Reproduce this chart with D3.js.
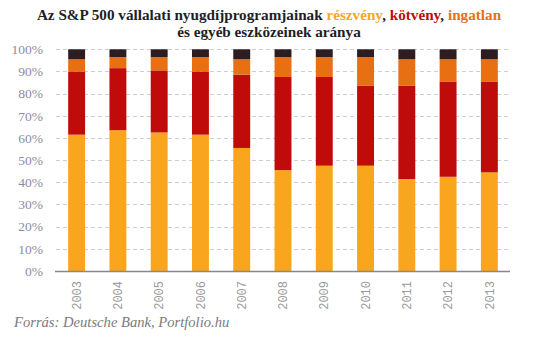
<!DOCTYPE html>
<html>
<head>
<meta charset="utf-8">
<script src="https://cdn.jsdelivr.net/npm/d3@7"></script>
<style>
  body { margin: 0; background: #fff; }
  svg { display: block; }
</style>
</head>
<body>
<svg id="chart"></svg>
<script>
// ── Data (percent of portfolio) ──────────────────────────────────────────────
const years      = ['2003', '2004', '2005', '2006', '2007', '2008', '2009', '2010', '2011', '2012', '2013'];
const stocks     = [61.5, 63.5, 62.5, 61.5, 55.5, 45.5, 47.5, 47.5, 41.5, 42.5, 44.5];
const bonds      = [28.5, 28,   28,   28.5, 33,   42,   40,   36,   42,   43,   41];
const realEstate = [5.5,  5,    6,    6.5,  7,    9,    9,    13,   12,   10,   10];
const other      = [4.5,  3.5,  3.5,  3.5,  4.5,  3.5,  3.5,  3.5,  4.5,  4.5,  4.5];
const yTicks     = [0, 10, 20, 30, 40, 50, 60, 70, 80, 90, 100];

const SERIES = [
  { key: 'stocks',     values: stocks,     color: '#F9A51E' },
  { key: 'bonds',      values: bonds,      color: '#C00B0B' },
  { key: 'realEstate', values: realEstate, color: '#E87013' },
  { key: 'other',      values: other,      color: '#2B1D22' },
];

const W = 534, H = 342;
const M = { left: 56, right: 24, top: 49.3, bottom: 71 };

const svg = d3.select('#chart').attr('width', W).attr('height', H);

// table for the stack layout
const table = years.map((y, i) => {
  const row = { year: y };
  SERIES.forEach(s => { row[s.key] = s.values[i]; });
  return row;
});

const x = d3.scaleBand()
  .domain(years)
  .range([M.left, W - M.right])
  .paddingInner(0.59)
  .paddingOuter(0.295);

const y = d3.scaleLinear()
  .domain([0, 100])
  .range([H - M.bottom, M.top]);

// ── Gridlines ────────────────────────────────────────────────────────────────
svg.append('g')
  .attr('class', 'grid')
  .selectAll('line')
  .data(yTicks.filter(t => t > 0))
  .join('line')
    .attr('x1', M.left)
    .attr('x2', W - M.right)
    .attr('y1', d => Math.round(y(d)) + 0.5)
    .attr('y2', d => Math.round(y(d)) + 0.5)
    .attr('stroke', '#cfcfcf')
    .attr('stroke-dasharray', '4,3');

// ── Stacked bars ─────────────────────────────────────────────────────────────
const stacked = d3.stack().keys(SERIES.map(s => s.key))(table);

svg.append('g')
  .attr('class', 'bars')
  .selectAll('g')
  .data(stacked)
  .join('g')
    .attr('fill', (d, i) => SERIES[i].color)
  .selectAll('rect')
  .data(d => d)
  .join('rect')
    .attr('x', d => x(d.data.year))
    .attr('width', x.bandwidth())
    .attr('y', d => y(d[1]))
    .attr('height', d => y(d[0]) - y(d[1]));

// ── Y axis labels ────────────────────────────────────────────────────────────
const yAxis = svg.append('g')
  .attr('transform', `translate(${M.left - 13},0)`)
  .call(d3.axisLeft(y).tickValues(yTicks).tickFormat(d => d + '%').tickSize(0).tickPadding(0));
yAxis.select('.domain').remove();
yAxis.selectAll('text')
  .attr('font-family', '"Liberation Serif", "DejaVu Serif", serif')
  .attr('font-size', 13.5)
  .attr('fill', '#8b8c9c');

// ── X axis (baseline + rotated year labels) ──────────────────────────────────
const xAxis = svg.append('g')
  .attr('transform', `translate(0,${H - M.bottom})`)
  .call(d3.axisBottom(x).tickSize(0).tickPadding(0));
xAxis.select('.domain')
  .attr('d', `M${M.left - 1},0.5H${W - M.right}`)
  .attr('stroke', '#888')
  .attr('stroke-width', 1.5);
xAxis.selectAll('text')
  .attr('font-family', '"Liberation Mono", "DejaVu Sans Mono", monospace')
  .attr('font-size', 12)
  .attr('fill', '#9a9a9a')
  .attr('text-anchor', 'end')
  .attr('dy', '0.35em')
  .attr('transform', 'translate(0,10) rotate(-90)')
  .attr('x', 0)
  .attr('y', 0);

// ── Title ────────────────────────────────────────────────────────────────────
const title = svg.append('text')
  .attr('x', 269)
  .attr('y', 20)
  .attr('text-anchor', 'middle')
  .attr('font-family', '"Liberation Serif", "DejaVu Serif", serif')
  .attr('font-weight', 'bold')
  .attr('font-size', 15.2)
  .attr('fill', '#1e1e28');
[
  ['Az S&P 500 vállalati nyugdíjprogramjainak ', null],
  ['részvény', SERIES[0].color],
  [', ', null],
  ['kötvény', SERIES[1].color],
  [',  ', null],
  ['ingatlan', SERIES[2].color],
].forEach(([t, c]) => {
  const ts = title.append('tspan').text(t);
  if (c) ts.attr('fill', c);
});

svg.append('text')
  .attr('x', 269)
  .attr('y', 37)
  .attr('text-anchor', 'middle')
  .attr('font-family', '"Liberation Serif", "DejaVu Serif", serif')
  .attr('font-weight', 'bold')
  .attr('font-size', 15.2)
  .attr('fill', '#1e1e28')
  .text('és egyéb eszközeinek aránya');

// ── Source ───────────────────────────────────────────────────────────────────
svg.append('text')
  .attr('x', 14)
  .attr('y', 327)
  .attr('font-family', '"Liberation Serif", "DejaVu Serif", serif')
  .attr('font-style', 'italic')
  .attr('font-size', 14.6)
  .attr('fill', '#7a7a80')
  .text('Forrás: Deutsche Bank, Portfolio.hu');
</script>
</body>
</html>
